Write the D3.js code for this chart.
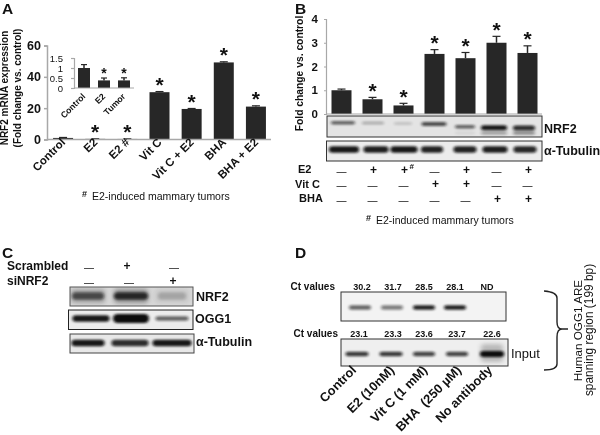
<!DOCTYPE html>
<html><head><meta charset="utf-8">
<script src="https://cdn.jsdelivr.net/npm/d3@7"></script>
<style>
html,body{margin:0;padding:0;background:#fff}
svg{display:block;filter:blur(0.3px)}
text{font-family:"Liberation Sans",Arial,sans-serif;fill:#111}
</style></head><body><div id="c"></div>
<script>
// ---------- data ----------
const catA = ["Control","E2","E2 #","Vit C","Vit C + E2","BHA","BHA + E2"];
const valA = [1,0.4,0.35,30.2,19.5,49.2,21];
const errA = [0.3,0.1,0.1,0.4,0.3,0.4,0.5];
const starA = [0,1,1,1,1,1,1];
const ticksA = [0,20,40,60];
const catIn = ["Control","E2","Tumor"];
const valIn = [1,0.38,0.38];
const errIn = [0.17,0.12,0.13];
const starIn = [0,1,1];
const ticksIn = [0,0.5,1,1.5];
const tickLabIn = ["0","0.5","1","1.5"];
const valB = [1,0.62,0.36,2.53,2.35,3.0,2.57];
const errB = [0.05,0.08,0.09,0.18,0.24,0.27,0.3];
const starB = [0,1,1,1,1,1,1];
const ticksB = [0,1,2,3,4];
const rowE2 = ["—","+","+","—","+","—","+"];
const rowVit = ["—","—","—","+","+","—","—"];
const rowBHA = ["—","—","—","—","—","+","+"];
const bNrf2 = [0.6,0.25,0.15,0.7,0.6,0.95,0.85];
const bNrf2Low = [0,0,0,0,0.06,0.3,0.4];
const bTub = [0.95,0.92,0.95,0.9,0.9,0.92,0.88];
const cScr = ["—","+","—"];
const cSi = ["—","—","+"];
const cNrf2 = [0.6,0.8,0.18];
const cOgg = [0.95,1,0.6];
const cTub = [0.95,0.85,0.95];
const ct1 = ["30.2","31.7","28.5","28.1","ND"];
const ct2 = ["23.1","23.3","23.6","23.7","22.6"];
const dChip = [0.6,0.5,0.9,0.9,0];
const dInput = [0.8,0.8,0.75,0.75,1];
const catD = ["Control","E2 (10nM)","Vit C (1 mM)","BHA\u00a0 (250 µM)","No antibody"];

// ---------- setup ----------
const svg = d3.select("#c").append("svg").attr("width",600).attr("height",435);
const defs = svg.append("defs");
defs.append("filter").attr("id","bl").attr("x","-30%").attr("y","-100%").attr("width","160%").attr("height","300%")
  .append("feGaussianBlur").attr("stdDeviation","1.6 1.1");
defs.append("filter").attr("id","bl2").attr("x","-30%").attr("y","-150%").attr("width","160%").attr("height","400%")
  .append("feGaussianBlur").attr("stdDeviation","2.5 2");
const BAR="#272727", AX="#a8a8a8";
let clipN=0;
function txt(x,y,s,o={}){
  const t=svg.append("text").attr("x",x).attr("y",y).text(s)
    .attr("font-size",o.fs||12).attr("font-weight",o.w||700).attr("text-anchor",o.a||"start");
  if(o.r!==undefined) t.attr("transform",`rotate(${o.r} ${x} ${y})`);
  return t;
}
function barChart(o){
  const g=svg.append("g");
  const y=d3.scaleLinear().domain(o.dom).range([o.y0,o.y1]);
  const x=d3.scaleBand().domain(d3.range(o.vals.length)).range([o.x0,o.x1]).paddingInner(o.pad).paddingOuter(o.pad/2);
  const ax=d3.axisLeft(y).tickValues(o.ticks).tickFormat((d,i)=>o.labels?o.labels[i]:d).tickSize(o.ts||3).tickPadding(o.tp||3);
  const ag=g.append("g").attr("transform",`translate(${o.x0},0)`).call(ax);
  ag.select(".domain").attr("stroke",AX).attr("stroke-width",o.sw||1.5);
  ag.selectAll(".tick line").attr("stroke",AX).attr("stroke-width",o.sw||1.5);
  ag.selectAll("text").attr("font-size",o.tfs||12).attr("font-weight",o.tw||700).attr("fill","#111")
    .style("font-family",'"Liberation Sans",Arial,sans-serif');
  const rows=o.vals.map((v,i)=>({v,i,e:o.errs[i],s:o.stars[i]}));
  const gs=g.selectAll(".m").data(rows).join("g");
  const bw=o.bw, cx=i=>x(i)+x.bandwidth()/2;
  gs.append("line").attr("x1",d=>cx(d.i)).attr("x2",d=>cx(d.i)).attr("y1",d=>y(d.v)).attr("y2",d=>y(d.v+d.e)).attr("stroke",BAR).attr("stroke-width",1.5);
  gs.append("line").attr("x1",d=>cx(d.i)-o.cap).attr("x2",d=>cx(d.i)+o.cap).attr("y1",d=>y(d.v+d.e)).attr("y2",d=>y(d.v+d.e)).attr("stroke",BAR).attr("stroke-width",1.2);
  gs.append("rect").attr("x",d=>cx(d.i)-bw/2).attr("width",bw).attr("y",d=>y(d.v)).attr("height",d=>Math.max(0,y(0)-y(d.v))).attr("fill",BAR);
  g.append("line").attr("x1",o.x0).attr("x2",o.xEnd).attr("y1",y(0)).attr("y2",y(0)).attr("stroke",AX).attr("stroke-width",o.sw||1.5);
  gs.filter(d=>d.s).append("text").text("*").attr("text-anchor","middle").attr("font-weight",o.sw2||400)
    .attr("font-size",o.sfs).attr("x",d=>cx(d.i)).attr("y",d=>y(d.v+d.e)+o.sdy);
  return {x:cx,y};
}
function blot(x0,y0,x1,y1,o){
  const id="cp"+(clipN++);
  svg.append("clipPath").attr("id",id).append("rect").attr("x",x0).attr("y",y0).attr("width",x1-x0).attr("height",y1-y0);
  const g=svg.append("g").attr("clip-path",`url(#${id})`);
  g.append("rect").attr("x",x0).attr("y",y0).attr("width",x1-x0).attr("height",y1-y0).attr("fill",o.bg||"#efefef");
  if(o.smear) g.selectAll(".sm").data(o.smear).join("rect")
    .attr("x",d=>d.x-d.w/2).attr("y",d=>d.y-d.h/2).attr("width",d=>d.w).attr("height",d=>d.h).attr("rx",3)
    .attr("fill","#555").attr("opacity",d=>d.o).attr("filter","url(#bl2)");
  g.selectAll(".bd").data(o.bands).join("rect")
    .attr("x",d=>d.x-d.w/2).attr("y",d=>d.y-d.h/2).attr("width",d=>d.w).attr("height",d=>d.h).attr("rx",d=>d.h/2)
    .attr("fill","#0c0c0c").attr("opacity",d=>d.o).attr("filter","url(#bl)");
  svg.append("rect").attr("x",x0).attr("y",y0).attr("width",x1-x0).attr("height",y1-y0)
    .attr("fill","none").attr("stroke",o.st||"#222").attr("stroke-width",o.sw||1);
}

// ---------- panel letters ----------
[[2,"A",14],[295,"B",14],[2,"C",258],[295,"D",258]].forEach(([x,l,y])=>txt(x,y,l,{fs:15.5}));

// ---------- panel A ----------
const aC=barChart({vals:valA,errs:errA,stars:starA,dom:[0,60],y0:139.5,y1:45.5,x0:47,x1:272,xEnd:271,pad:0.1,bw:20,cap:4,ticks:ticksA,sfs:21,sdy:0.5,tfs:12.5,ts:3,tp:3,sw2:700});
txt(8,88,"NRF2 mRNA expression",{fs:10,a:"middle",r:-90});
txt(20.5,88,"(Fold change vs. control)",{fs:10,a:"middle",r:-90});
catA.forEach((c,i)=>txt(aC.x(i)+3,143,c,{fs:11.5,a:"end",r:-45}));
const inC=barChart({vals:valIn,errs:errIn,stars:starIn,dom:[0,1.5],y0:88,y1:58,x0:74,x1:134,xEnd:134,pad:0.05,bw:12,cap:3,ticks:ticksIn,labels:tickLabIn,sfs:14,sdy:0,tfs:9.5,tw:400,ts:0,tp:8,sw:1.2,sw2:700});
catIn.forEach((c,i)=>txt(inC.x(i)+2,97,c,{fs:8.7,a:"end",r:-45}));
txt(82,197,"#",{fs:9});
txt(92,200,"E2-induced mammary tumors",{fs:10.5,w:400});

// ---------- panel B ----------
const bC=barChart({vals:valB,errs:errB,stars:starB,dom:[0,4],y0:114,y1:19,x0:326,x1:543,xEnd:542,pad:0.1,bw:20,cap:4,ticks:ticksB,sfs:21,sdy:0.5,tfs:11.5,ts:2,tp:6,sw:1.2,sw2:700});
txt(303,73.5,"Fold change vs. control",{fs:10.3,a:"middle",r:-90});
const nrfX=[343,373,403,434,465,494,524], nrfW=[24,22,18,25,20,26,22], nrfY=[122.7,123,123.5,124,126.7,127.7,128], nrfH=[3.5,3,3,4,3.5,5,5];
const tubX=[344,376,404,432,465,495,525], tubW=[30,25,27,22,23,25,23];
blot(327,116,542,137,{bg:"#e4e4e4",st:"#333",bands:[
  ...bNrf2.map((v,i)=>({x:nrfX[i],y:nrfY[i],w:nrfW[i],h:nrfH[i],o:v})),
  ...bNrf2Low.map((v,i)=>({x:nrfX[i],y:133,w:nrfW[i],h:3.5,o:v}))]});
blot(326.5,141,542,161,{bg:"#ececec",st:"#333",bands:bTub.map((v,i)=>({x:tubX[i],y:149.5,w:tubW[i],h:6.5,o:v}))});
txt(544,133,"NRF2",{fs:12.5});txt(544,155,"α-Tubulin",{fs:12.5});
[[rowE2,175,"E2",298,173],[rowVit,189,"Vit C",295,188],[rowBHA,204,"BHA",299,202]].forEach(([r,yy,l,lx,ly])=>{
  txt(lx,ly,l,{fs:11});
  r.forEach((s,i)=>txt(bC.x(i)+(s==="+"?1:0),s==="+"?yy-1.5:yy,s,{fs:s==="+"?12:10,a:"middle",w:s==="+"?700:400}));
});
txt(409.5,169,"#",{fs:8});
txt(366,221,"#",{fs:9});
txt(376,224,"E2-induced mammary tumors",{fs:10.5,w:400});

// ---------- panel C ----------
const cN=[88,131,172], cO=[91,131,172], cT=[88,130,172];
cScr.forEach((s,i)=>txt([89,127,174][i],s==="+"?270:271,s,{fs:s==="+"?12:10,a:"middle",w:s==="+"?700:400}));
cSi.forEach((s,i)=>txt([89,129,173][i],s==="+"?285:286,s,{fs:s==="+"?12:10,a:"middle",w:s==="+"?700:400}));
txt(7,270,"Scrambled",{fs:12});txt(7,285,"siNRF2",{fs:12});
blot(70,287,193,306,{bg:"#d8d8d8",st:"#555",smear:cNrf2.map((v,i)=>({x:cN[i],y:296,w:34,h:14,o:v*0.7})),bands:cNrf2.map((v,i)=>({x:cN[i],y:296,w:[32,34,28][i],h:7,o:v}))});
blot(68.5,310,193,329.5,{bg:"#ececec",st:"#222",bands:cOgg.map((v,i)=>({x:cO[i],y:318.5,w:[37,36,33][i],h:[6.5,9,4.5][i],o:v}))});
blot(70,334,194,353,{bg:"#e8e8e8",st:"#444",bands:cTub.map((v,i)=>({x:cT[i],y:343,w:[33,37,39][i],h:6.5,o:v}))});
txt(196,301,"NRF2",{fs:12.5});txt(195,323,"OGG1",{fs:12.5});txt(196,346,"α-Tubulin",{fs:12.5});

// ---------- panel D ----------
const d1=[360,392,424,455,487], d2=[357,391,424,457,492];
txt(335,290,"Ct values",{fs:10,a:"end"});txt(338,337,"Ct values",{fs:10,a:"end"});
ct1.forEach((s,i)=>txt([362,393,424,455,487][i],290,s,{fs:9,a:"middle",w:700}));
ct2.forEach((s,i)=>txt([359,393,424,457,492][i],337,s,{fs:9,a:"middle",w:700}));
blot(341,292,506,321,{bg:"#f3f3f3",st:"#333",bands:dChip.map((v,i)=>({x:d1[i],y:307.5,w:22,h:4.5,o:v}))});
blot(341,339,508,366,{bg:"#efefef",st:"#333",smear:[{x:d2[4],y:353,w:22,h:18,o:0.35}],bands:dInput.map((v,i)=>({x:d2[i],y:354,w:[23,23,22,22,24][i],h:i==4?6:4.5,o:v}))});
txt(511,358,"Input",{fs:13,w:400});
catD.forEach((c,i)=>txt([357,395,428,462,493][i],371,c,{fs:12.8,a:"end",r:-45}));
svg.append("path").attr("d","M544 291 Q557 292 557 298 L557 322 Q557 329 562 329 L568 329 M562 329 Q557 329 557 337 L557 364 Q557 370 544 370")
  .attr("fill","none").attr("stroke","#222").attr("stroke-width",1.4);
txt(582,330.5,"Human OGG1 ARE",{fs:11.7,a:"middle",r:-90,w:400});
txt(593,330,"spanning region (199 bp)",{fs:11.9,a:"middle",r:-90,w:400});
</script></body></html>
